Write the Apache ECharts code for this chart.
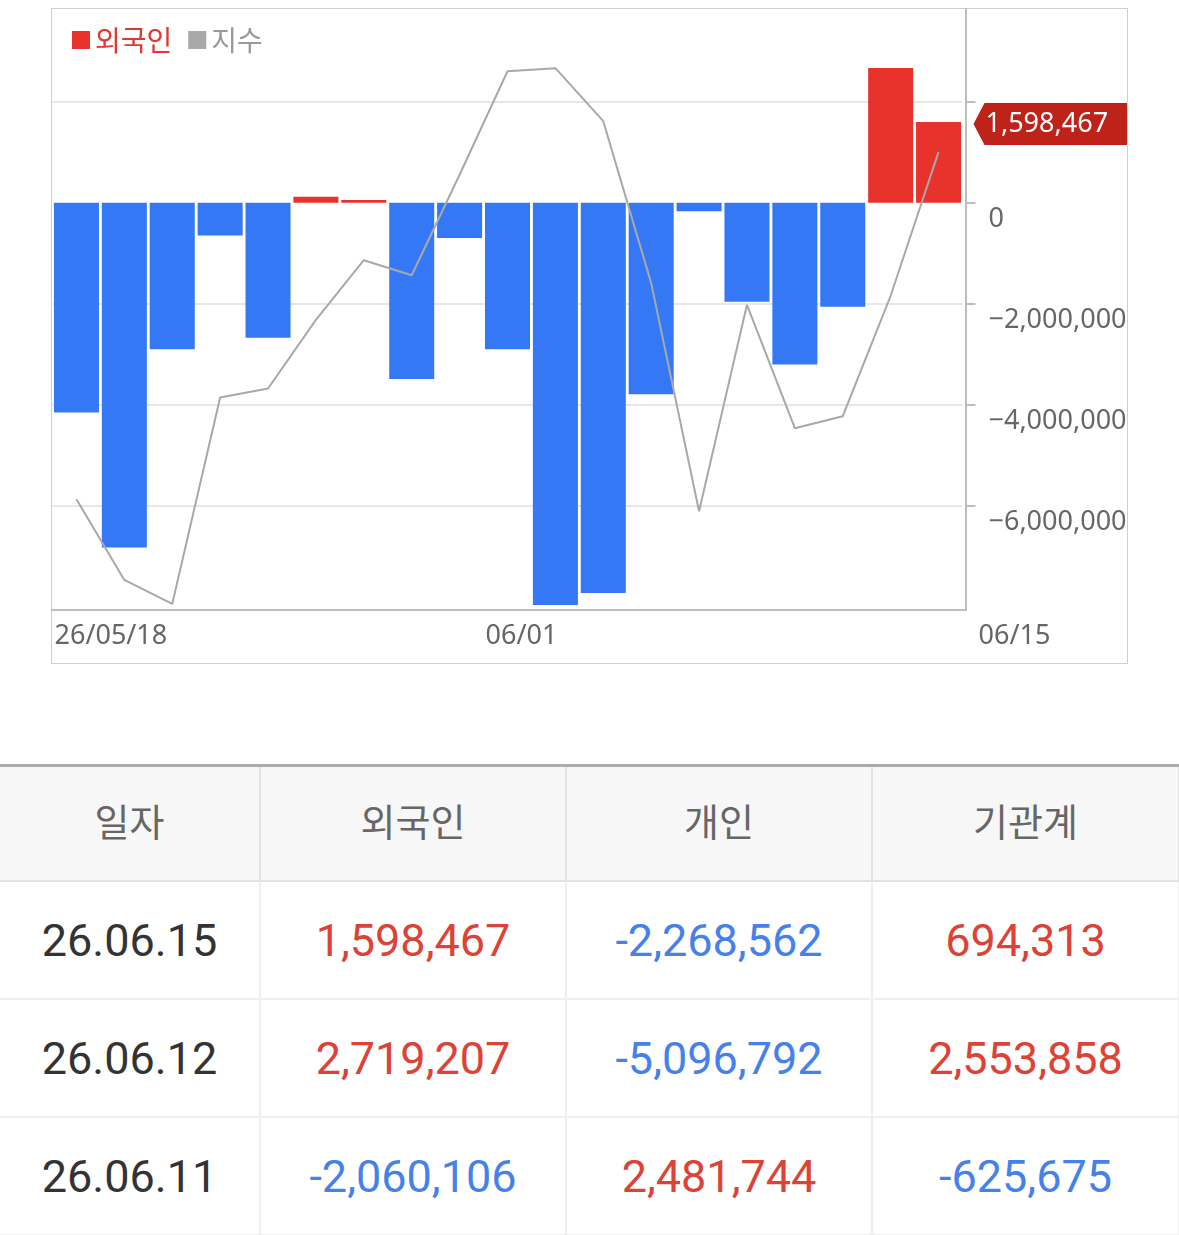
<!DOCTYPE html>
<html lang="ko">
<head>
<meta charset="utf-8">
<title>외국인 순매수</title>
<script src="https://cdn.jsdelivr.net/npm/echarts@6/dist/echarts.min.js"></script>
<style>
  html, body { margin: 0; padding: 0; background: #fff; }
  body { width: 1179px; height: 1235px; position: relative; overflow: hidden; }
  #box { position: absolute; left: 51px; top: 8px; width: 1077px; height: 656px; border: 1px solid #cfcfcf; box-sizing: border-box; }
  #frame { position: absolute; left: 51px; top: 8px; width: 916px; height: 603px; border-right: 2px solid #bdbdbd; border-bottom: 2px solid #bdbdbd; box-sizing: border-box; }
  #chart { position: absolute; left: 0; top: 0; width: 1179px; height: 700px; }
  #tbl { position: absolute; left: 0; top: 764px; width: 1179px; border-collapse: collapse; table-layout: fixed; }
  #tbl th { height: 105px; padding: 0 0 8px 0; background: #f7f7f7; color: #666; font: 400 38px "Noto Sans CJK KR", sans-serif;
            border-top: 3px solid #ababab; border-bottom: 2px solid #e2e2e2; border-right: 2px solid #e2e2e2; }
  #tbl td { height: 116px; padding: 0; text-align: center; font: 400 45px Roboto, sans-serif; color: #333;
            border-bottom: 2px solid #efefef; border-right: 2px solid #efefef; }
  #tbl th:first-child, #tbl td:first-child { box-shadow: 5px 0 6px -3px rgba(0,0,0,0.13); position: relative; }
  #tbl .up { color: #dc4236; }
  #tbl .down { color: #4681ea; }
</style>
</head>
<body>
<div id="box"></div>
<div id="frame"></div>
<div id="chart"></div>
<table id="tbl">
  <colgroup><col style="width:260px"><col style="width:306px"><col style="width:306px"><col style="width:307px"></colgroup>
  <thead><tr id="head"></tr></thead>
  <tbody id="rows"></tbody>
</table>
<script>
// trading days shown in the chart
const dates = ['2026-05-18', '2026-05-19', '2026-05-20', '2026-05-21', '2026-05-22',
  '2026-05-26', '2026-05-27', '2026-05-28', '2026-05-29',
  '2026-06-01', '2026-06-02', '2026-06-04', '2026-06-05',
  '2026-06-08', '2026-06-09', '2026-06-10', '2026-06-11', '2026-06-12', '2026-06-15'];
// 외국인 순매수 (bars)
const foreignNet = [-4150000, -6820000, -2900000, -650000, -2670000, 120000, 55000, -3490000, -700000,
  -2900000, -7960000, -7720000, -3790000, -170000, -1960000, -3200000, -2060106, 2665000, 1598467];
// 지수 (line, own hidden scale)
const indexClose = [2618.4, 2605.0, 2601.0, 2635.3, 2636.8, 2648.2, 2658.1, 2655.6, 2672.3, 2689.5,
  2690.0, 2681.2, 2654.3, 2616.4, 2650.7, 2630.2, 2632.2, 2652.2, 2676.1];

const yTickValues = [-6000000, -4000000, -2000000, 0, 2000000];
const yLabelValues = [-6000000, -4000000, -2000000, 0];
const xLabelPos = [0, 9, 19];
const xLabelText = ['26/05/18', '06/01', '06/15'];

// table below the chart
const tableHead = ['일자', '외국인', '개인', '기관계'];
const tableDates = ['26.06.15', '26.06.12', '26.06.11'];
const tableForeign = [1598467, 2719207, -2060106];
const tablePersonal = [-2268562, -5096792, 2481744];
const tableInst = [694313, 2553858, -625675];

const RED = '#e8332c';
const BLUE = '#3478f6';
const GRAY = '#a8a8a8';
const GRID_LINE = '#e7e7e7';
const GRID_LEFT = 52.5, GRID_TOP = 8, GRID_W = 910, GRID_H = 602;

const fmt = n => n.toLocaleString('en-US');
const axisFmt = n => (n < 0 ? '\u2212' : '') + fmt(Math.abs(n));

const chart = echarts.init(document.getElementById('chart'));
chart.setOption({
  animation: false,
  textStyle: { fontFamily: '"Noto Sans", sans-serif' },
  legend: {
    left: 67, top: 21, icon: 'rect', itemWidth: 18, itemHeight: 18, itemGap: 16,
    selectedMode: false,
    textStyle: { fontSize: 28, fontFamily: '"Noto Sans CJK KR", sans-serif' },
    data: [
      { name: '외국인', itemStyle: { color: RED }, textStyle: { color: '#e0382f' } },
      { name: '지수', itemStyle: { color: GRAY }, textStyle: { color: '#999' } }
    ]
  },
  grid: { left: GRID_LEFT, top: GRID_TOP, width: GRID_W, height: GRID_H },
  xAxis: [
    {
      type: 'category', data: dates, position: 'top',
      axisLine: { show: false }, axisTick: { show: false }, axisLabel: { show: false }, splitLine: { show: false }
    },
    {
      type: 'value', min: 0, max: dates.length, position: 'bottom',
      axisLine: { show: false, onZero: false }, axisTick: { show: false }, splitLine: { show: false },
      axisLabel: {
        customValues: xLabelPos, align: 'left', margin: 13,
        formatter: v => {
          const i = xLabelPos.indexOf(v);
          return (i === xLabelPos.length - 1 ? '{end|' : '{base|') + xLabelText[i] + '}';
        },
        rich: {
          base: { fontSize: 27, color: '#666', padding: [0, 0, 0, 2] },
          end: { fontSize: 27, color: '#666', padding: [0, 0, 0, 16] }
        }
      }
    }
  ],
  yAxis: [
    {
      type: 'value', position: 'right', offset: 4, min: -8058000, max: 3852000,
      axisLine: { show: false, onZero: false },
      axisTick: { show: true, length: 9, customValues: yTickValues, lineStyle: { color: '#bdbdbd', width: 2 } },
      axisLabel: { customValues: yLabelValues, margin: 22, verticalAlign: 'top', padding: [3, 0, 0, 0], fontSize: 27, color: '#666', formatter: axisFmt },
      splitLine: { show: true, lineStyle: { color: [GRID_LINE, GRID_LINE, GRID_LINE, 'rgba(0,0,0,0)', GRID_LINE], width: 2 } }
    },
    {
      type: 'value', position: 'right', show: false, min: 2600, max: 2700,
      axisLine: { show: false, onZero: false }, axisTick: { show: false }, axisLabel: { show: false }, splitLine: { show: false }
    }
  ],
  series: [
    {
      name: '외국인', type: 'bar', data: foreignNet, barCategoryGap: '6%',
      itemStyle: { color: p => (p.value >= 0 ? RED : BLUE) }
    },
    {
      name: '지수', type: 'line', yAxisIndex: 1, data: indexClose, symbol: 'none', z: 3,
      lineStyle: { color: GRAY, width: 2 }, itemStyle: { color: GRAY }
    }
  ]
});

// value tag for the latest bar, on the right axis
const last = foreignNet[foreignNet.length - 1];
const tagY = chart.convertToPixel({ yAxisIndex: 0 }, last) + 2;
const tipX = GRID_LEFT + GRID_W + 4 + 7;
chart.setOption({
  graphic: [{
    type: 'group', z: 100,
    children: [
      {
        type: 'polygon', z: 100,
        shape: { points: [[tipX, tagY], [tipX + 11, tagY - 21], [1127, tagY - 21], [1127, tagY + 21], [tipX + 11, tagY + 21]] },
        style: { fill: '#be2219' }
      },
      {
        type: 'text', z: 101, x: tipX + 12, y: tagY,
        style: { text: fmt(last), fill: '#fff', fontSize: 27, fontFamily: '"Noto Sans", sans-serif', verticalAlign: 'middle', align: 'left' }
      }
    ]
  }]
});

// table
const cls = n => (n >= 0 ? 'up' : 'down');
document.getElementById('head').innerHTML = tableHead.map(h => '<th>' + h + '</th>').join('');
document.getElementById('rows').innerHTML = tableDates.map((d, i) =>
  '<tr><td>' + d + '</td>' +
  [tableForeign[i], tablePersonal[i], tableInst[i]].map(v => '<td class="' + cls(v) + '">' + fmt(v) + '</td>').join('') +
  '</tr>').join('');
</script>
</body>
</html>
